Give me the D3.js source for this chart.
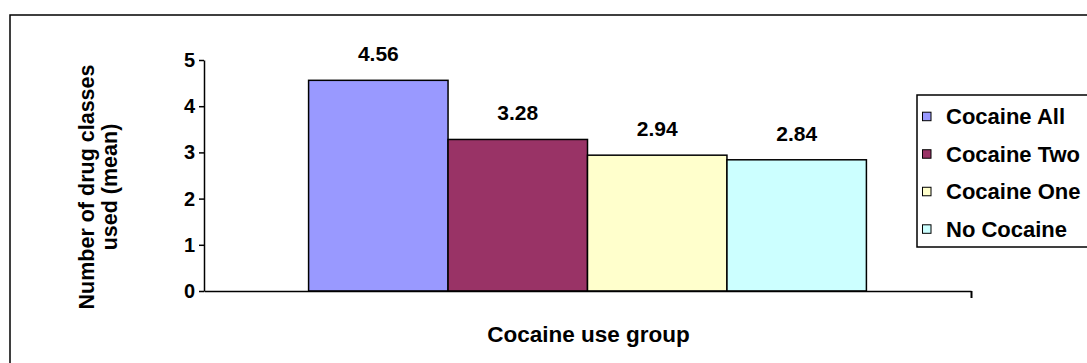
<!DOCTYPE html>
<html>
<head>
<meta charset="utf-8">
<script src="https://cdn.jsdelivr.net/npm/d3@7"></script>
<style>
  html, body { margin: 0; padding: 0; background: #fff; }
  svg text { font-family: Arial, "Liberation Sans", sans-serif; font-weight: bold; fill: #000; }
</style>
</head>
<body>
<svg id="chart" width="1087" height="363"></svg>
<script>
// Mean number of drug classes used, by cocaine use group
const groupLabel = "Cocaine use group";
const series = ["Cocaine All", "Cocaine Two", "Cocaine One", "No Cocaine"];
const values = [4.56, 3.28, 2.94, 2.84];
const colors = ["#9999FF", "#993366", "#FFFFCC", "#CCFFFF"];
const yTicks = [0, 1, 2, 3, 4, 5];
const yTitle = ["Number of drug classes", "used (mean)"];

const svg = d3.select("#chart");

// outer chart frame
svg.append("rect")
  .attr("x", 10).attr("y", 15)
  .attr("width", 1100).attr("height", 400)
  .attr("fill", "#fff").attr("stroke", "#000").attr("stroke-width", 1.5);

const plot = { left: 204, right: 971, top: 60, bottom: 291 };

const y = d3.scaleLinear().domain([0, 5]).range([plot.bottom, plot.top]);
// one category, four series; gap of 1.5 bar widths split around the cluster
const x = d3.scaleBand().domain(series)
  .range([plot.left, plot.right])
  .paddingInner(0).paddingOuter(0.75);
const color = d3.scaleOrdinal().domain(series).range(colors);

const data = series.map((s, i) => ({ s, v: values[i] }));

// bars
svg.append("g").selectAll("rect").data(data).join("rect")
  .attr("x", d => x(d.s))
  .attr("y", d => y(d.v))
  .attr("width", x.bandwidth())
  .attr("height", d => y(0) - y(d.v))
  .attr("fill", d => color(d.s))
  .attr("stroke", "#000").attr("stroke-width", 1.5);

// value labels
svg.append("g").selectAll("text").data(data).join("text")
  .attr("x", d => x(d.s) + x.bandwidth() / 2)
  .attr("y", d => y(d.v) - 19)
  .attr("text-anchor", "middle")
  .style("font-size", "21px")
  .text(d => d.v.toFixed(2));

// y axis
const yAxis = svg.append("g")
  .attr("transform", `translate(${plot.left},0)`)
  .call(d3.axisLeft(y).tickValues(yTicks).tickFormat(d3.format("d")).tickSize(5).tickSizeOuter(0).tickPadding(4));
yAxis.select(".domain").attr("stroke", "#000").attr("stroke-width", 1.5);
yAxis.selectAll(".tick line").attr("stroke", "#000").attr("stroke-width", 1.5);
yAxis.selectAll(".tick text")
  .style("font-size", "20px").style("font-family", "Arial, 'Liberation Sans', sans-serif")
  .style("font-weight", "bold").attr("fill", "#000");

// x axis: single category with a tick at the far boundary
const xEdge = d3.scaleLinear().domain([0, 1]).range([plot.left, plot.right]);
const xAxis = svg.append("g")
  .attr("transform", `translate(0,${plot.bottom})`)
  .call(d3.axisBottom(xEdge).tickValues([1]).tickFormat("").tickSize(7).tickSizeOuter(0));
xAxis.select(".domain").attr("stroke", "#000").attr("stroke-width", 1.5);
xAxis.selectAll(".tick line").attr("stroke", "#000").attr("stroke-width", 2);

// axis titles
svg.append("text")
  .attr("x", (plot.left + plot.right) / 2 + 1)
  .attr("y", 342)
  .attr("text-anchor", "middle")
  .style("font-size", "22.5px")
  .text(groupLabel);

const yt = svg.append("text")
  .attr("transform", "translate(94,187) rotate(-90)")
  .attr("text-anchor", "middle")
  .style("font-size", "21.5px");
yt.selectAll("tspan").data(yTitle).join("tspan")
  .attr("x", 0)
  .attr("dy", (d, i) => i === 0 ? 0 : 22.5)
  .text(d => d);

// legend
const legend = svg.append("g");
legend.append("rect")
  .attr("x", 917).attr("y", 95)
  .attr("width", 200).attr("height", 152)
  .attr("fill", "#fff").attr("stroke", "#000").attr("stroke-width", 1.5);
const rowY = d3.scalePoint().domain(series).range([116.7, 229.3]);
const items = legend.selectAll("g.item").data(series).join("g").attr("class", "item")
  .attr("transform", d => `translate(0,${rowY(d)})`);
items.append("rect")
  .attr("x", 922.5).attr("y", -4.5)
  .attr("width", 8.5).attr("height", 8.5)
  .attr("fill", d => color(d)).attr("stroke", "#000").attr("stroke-width", 1);
items.append("text")
  .attr("x", 946).attr("y", 0)
  .attr("dy", "0.35em")
  .style("font-size", "22px")
  .text(d => d);
</script>
</body>
</html>
